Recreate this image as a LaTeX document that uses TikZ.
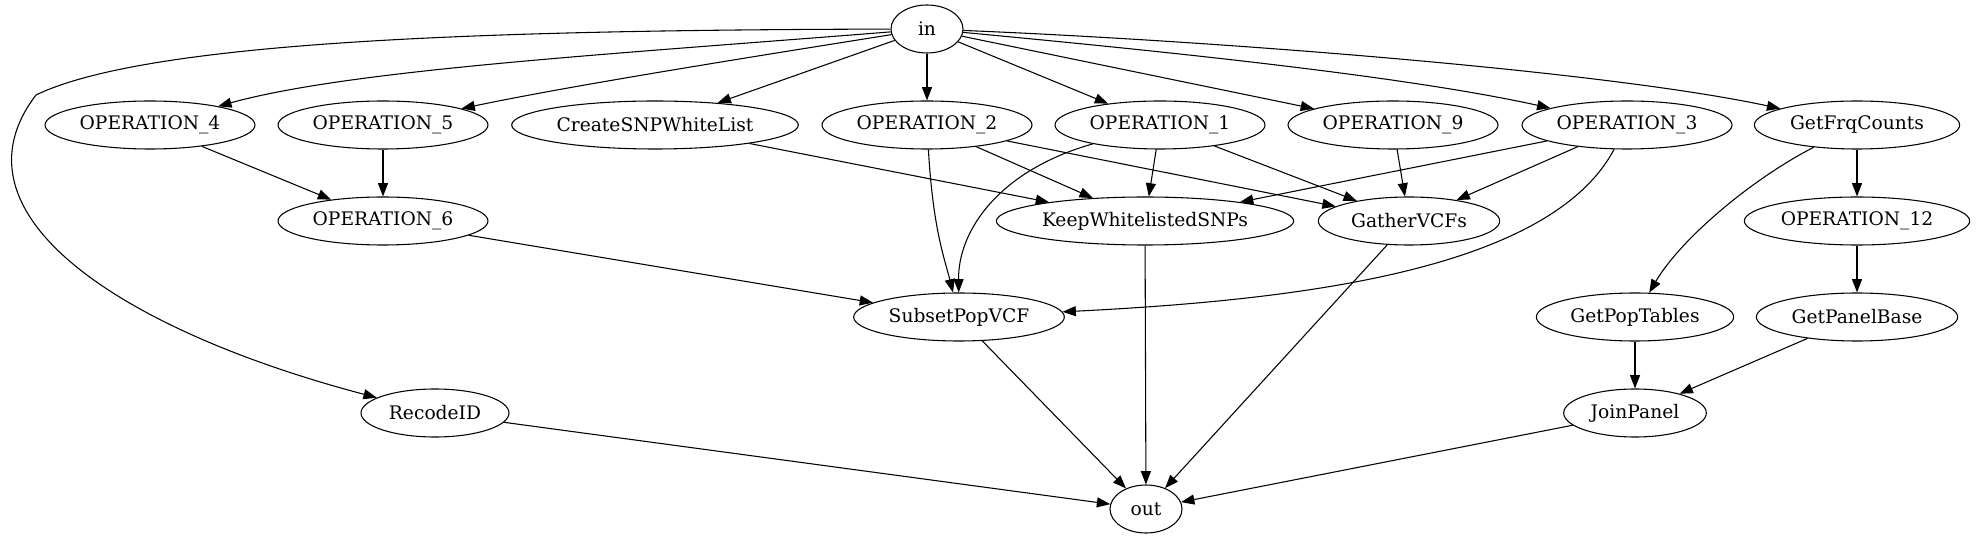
\documentclass[tikz,border=0pt]{standalone}
\usepackage{fontspec}
\setmainfont{DejaVu Serif}
\usetikzlibrary{shapes.geometric,arrows.meta}
\begin{document}
\begin{tikzpicture}[x=0.75pt,y=0.75pt,
  nd/.style={draw, ellipse, line width=0.8pt, minimum height=36pt, inner sep=0pt, font=\fontsize{14}{16}\selectfont},
  edge/.style={line width=0.8pt, -{Triangle[length=10pt,width=7.5pt]}}]
\useasboundingbox (0,0) rectangle (1976,539);
% rank 0
\node[nd, minimum width=54pt] (in) at (927,510) {in};
% rank 1
\node[nd, minimum width=157.5pt] (op4) at (150,414) {OPERATION\_4};
\node[nd, minimum width=157.5pt] (op5) at (383,414) {OPERATION\_5};
\node[nd, minimum width=215pt] (create) at (655,414) {CreateSNPWhiteList};
\node[nd, minimum width=157.5pt] (op2) at (927,414) {OPERATION\_2};
\node[nd, minimum width=157.5pt] (op1) at (1160,414) {OPERATION\_1};
\node[nd, minimum width=157.5pt] (op9) at (1393,414) {OPERATION\_9};
\node[nd, minimum width=157.5pt] (op3) at (1627,414) {OPERATION\_3};
\node[nd, minimum width=154pt] (frq) at (1857,414) {GetFrqCounts};
% rank 2
\node[nd, minimum width=157.5pt] (op6) at (383,318) {OPERATION\_6};
\node[nd, minimum width=223pt] (keep) at (1145,318) {KeepWhitelistedSNPs};
\node[nd, minimum width=136pt] (gather) at (1409,318) {GatherVCFs};
\node[nd, minimum width=169pt] (op12) at (1857,318) {OPERATION\_12};
% rank 3
\node[nd, minimum width=158pt] (subset) at (959,222) {SubsetPopVCF};
\node[nd, minimum width=148pt] (poptab) at (1635,222) {GetPopTables};
\node[nd, minimum width=151pt] (panelbase) at (1857,222) {GetPanelBase};
% rank 4
\node[nd, minimum width=111pt] (recode) at (435,126) {RecodeID};
\node[nd, minimum width=107pt] (join) at (1635,126) {JoinPanel};
% rank 5
\node[nd, minimum width=54pt] (out) at (1146,30) {out};
\coordinate (k) at (36,444);

% edges from in
\draw[edge] (in) .. controls (500,509) and (150,499) .. (k) .. controls (-55,325) and (120,209) .. (recode);
\draw[edge] (in) .. controls (600,484) and (350,469) .. (op4);
\draw[edge] (in) .. controls (700,474) and (560,451) .. (op5);
\draw[edge] (in) -- (create);
\draw[edge] (in) -- (op2);
\draw[edge] (in) -- (op1);
\draw[edge] (in) -- (op9);
\draw[edge] (in) .. controls (1150,489) and (1400,464) .. (op3);
\draw[edge] (in) .. controls (1200,499) and (1600,469) .. (frq);
% rank 1 -> 2/3
\draw[edge] (op4) -- (op6);
\draw[edge] (op5) -- (op6);
\draw[edge] (create) -- (keep);
\draw[edge] (op2) -- (keep);
\draw[edge] (op2) -- (gather);
\draw[edge] (op2) .. controls (933,309) and (945,279) .. (subset);
\draw[edge] (op1) -- (keep);
\draw[edge] (op1) -- (gather);
\draw[edge] (op1) .. controls (1000,369) and (958,309) .. (subset);
\draw[edge] (op9) -- (gather);
\draw[edge] (op3) -- (keep);
\draw[edge] (op3) -- (gather);
\draw[edge] (op3) .. controls (1550,269) and (1300,239) .. (subset);
\draw[edge] (frq) -- (op12);
\draw[edge] (frq) .. controls (1750,359) and (1680,299) .. (poptab);
% rank 2 -> 3
\draw[edge] (op6) -- (subset);
\draw[edge] (op12) -- (panelbase);
% rank 3 -> 4
\draw[edge] (poptab) -- (join);
\draw[edge] (panelbase) -- (join);
% to out
\draw[edge] (keep) -- (out);
\draw[edge] (gather) -- (out);
\draw[edge] (subset) -- (out);
\draw[edge] (recode) -- (out);
\draw[edge] (join) -- (out);
\end{tikzpicture}
\end{document}
